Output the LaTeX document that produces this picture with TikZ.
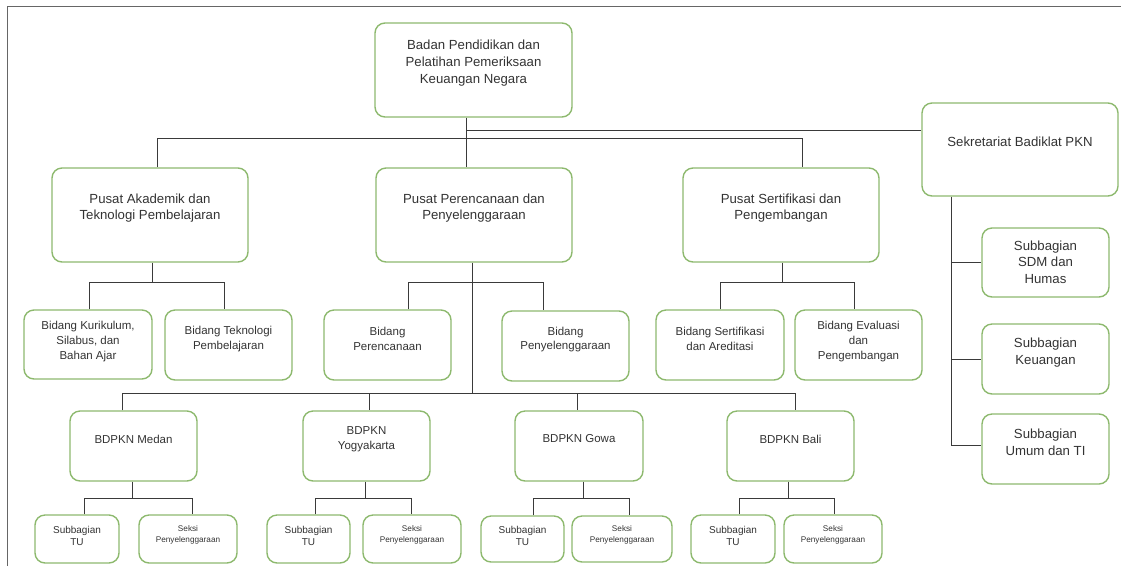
\documentclass[tikz,border=0pt]{standalone}
\usepackage{fontspec}
\setmainfont{Liberation Sans}
\usetikzlibrary{fit}
\definecolor{bgreen}{HTML}{8DB96E}
\definecolor{lnc}{HTML}{3A3A3A}
\definecolor{txc}{HTML}{333333}
\definecolor{frc}{HTML}{666666}
\tikzset{
  orgbox/.style={draw=bgreen, line width=1.4pt, rounded corners=10pt, inner sep=0pt},
  conn/.style={draw=lnc, line width=0.9pt},
  tA/.style={font=\fontsize{13.2}{16.6}\selectfont, align=center, text=txc, inner sep=0pt},
  tB/.style={font=\fontsize{11.5}{14.6}\selectfont, align=center, text=txc, inner sep=0pt},
  tC/.style={font=\fontsize{10}{12.3}\selectfont, align=center, text=txc, inner sep=0pt},
  tD/.style={font=\fontsize{8.2}{11}\selectfont, align=center, text=txc, inner sep=0pt},
}
\newcommand\obox[8]{%
  \node[orgbox, fit={(#2,#3) (#4,#5)}] (#1) {};
  \node[#6] (#1-t) at ({(#2+#4)/2},#8) {#7};}
\begin{document}
\begin{tikzpicture}[x=1pt,y=-1pt]
\useasboundingbox (0,0) rectangle (1121,566);
% frame
\coordinate (fa) at (7,566);
\coordinate (fb) at (7,6);
\coordinate (fc) at (1121,6);
\draw[frc, line width=1pt] (fa) -- (fb) -- (fc);

% boxes
\obox{top}{375}{23}{572}{117}{tA}{Badan Pendidikan dan\\Pelatihan Pemeriksaan\\Keuangan Negara}{63}
\obox{pa}{52}{168}{248}{262}{tA}{Pusat Akademik dan\\Teknologi Pembelajaran}{208}
\obox{pp}{376}{168}{572}{262}{tA}{Pusat Perencanaan dan\\Penyelenggaraan}{208}
\obox{ps}{683}{168}{879}{262}{tA}{Pusat Sertifikasi dan\\Pengembangan}{208}
\obox{sek}{922}{103}{1118}{196}{tA}{Sekretariat Badiklat PKN}{142}
\obox{s1}{982}{228}{1109}{297}{tA}{Subbagian\\SDM dan\\Humas}{262}
\obox{s2}{982}{324}{1109}{394}{tA}{Subbagian\\Keuangan}{352.5}
\obox{s3}{982}{414}{1109}{484}{tA}{Subbagian\\Umum dan TI}{442.5}

\obox{bk}{24}{310}{152}{379}{tB}{Bidang Kurikulum,\\Silabus, dan\\Bahan Ajar}{341.5}
\obox{bt}{165}{310}{292}{380}{tB}{Bidang Teknologi\\Pembelajaran}{339}
\obox{bpr}{324}{310}{451}{380}{tB}{Bidang\\Perencanaan}{339}
\obox{bpy}{502}{311}{629}{381}{tB}{Bidang\\Penyelenggaraan}{339.5}
\obox{bsa}{656}{310}{784}{380}{tB}{Bidang Sertifikasi\\dan Areditasi}{339}
\obox{bev}{795}{310}{922}{380}{tB}{Bidang Evaluasi\\dan\\Pengembangan}{341.5}

\obox{md}{70}{411}{197}{481}{tB}{BDPKN Medan}{439}
\obox{yg}{303}{411}{430}{481}{tB}{BDPKN\\Yogyakarta}{439.5}
\obox{gw}{515}{411}{643}{481}{tB}{BDPKN Gowa}{439}
\obox{bl}{727}{411}{854}{481}{tB}{BDPKN Bali}{439}

\obox{md1}{35}{515}{119}{563}{tC}{Subbagian\\TU}{536}
\obox{md2}{139}{515}{237}{563}{tD}{Seksi\\Penyelenggaraan}{534.5}
\obox{yg1}{267}{515}{350}{563}{tC}{Subbagian\\TU}{536}
\obox{yg2}{363}{515}{461}{563}{tD}{Seksi\\Penyelenggaraan}{534.5}
\obox{gw1}{481}{516}{564}{562}{tC}{Subbagian\\TU}{536}
\obox{gw2}{572}{516}{672}{562}{tD}{Seksi\\Penyelenggaraan}{534.5}
\obox{bl1}{691}{515}{775}{563}{tC}{Subbagian\\TU}{536}
\obox{bl2}{784}{515}{882}{563}{tD}{Seksi\\Penyelenggaraan}{534.5}

% connectors: top level
\coordinate (tj) at (466,138);
\coordinate (sj) at (466,130);
\coordinate (b1) at (157,138);
\coordinate (b2) at (802,138);
\draw[conn] (top.south -| tj) -- (pp.north -| tj);
\draw[conn] (sj) -- (sek.west |- sj);
\draw[conn] (pa.north -| b1) -- (b1) -- (b2) -- (ps.north -| b2);

% Pusat Akademik
\coordinate (a0) at (152,282);
\coordinate (a1) at (89,282);
\coordinate (a2) at (224,282);
\draw[conn] (pa.south -| a0) -- (a0);
\draw[conn] (bk.north -| a1) -- (a1) -- (a2) -- (bt.north -| a2);

% Pusat Perencanaan
\coordinate (p0) at (472,282);
\coordinate (p1) at (408,282);
\coordinate (p2) at (543,282);
\coordinate (p3) at (472,393);
\draw[conn] (pp.south -| p0) -- (p3);
\draw[conn] (bpr.north -| p1) -- (p1) -- (p2) -- (bpy.north -| p2);
\coordinate (q1) at (122,393);
\coordinate (q2) at (369,393);
\coordinate (q3) at (577,393);
\coordinate (q4) at (795,393);
\draw[conn] (md.north -| q1) -- (q1) -- (q4) -- (bl.north -| q4);
\draw[conn] (q2) -- (yg.north -| q2);
\draw[conn] (q3) -- (gw.north -| q3);

% Pusat Sertifikasi
\coordinate (c0) at (782,282);
\coordinate (c1) at (720,282);
\coordinate (c2) at (854,282);
\draw[conn] (ps.south -| c0) -- (c0);
\draw[conn] (bsa.north -| c1) -- (c1) -- (c2) -- (bev.north -| c2);

% Sekretariat
\coordinate (k0) at (951,262);
\coordinate (k1) at (951,359);
\coordinate (k2) at (951,445);
\draw[conn] (sek.south -| k0) -- (k2) -- (s3.west |- k2);
\draw[conn] (k0) -- (s1.west |- k0);
\draw[conn] (k1) -- (s2.west |- k1);

% BDPKN children
\coordinate (m0) at (132,498);
\coordinate (m1) at (84,498);
\coordinate (m2) at (192,498);
\draw[conn] (md.south -| m0) -- (m0);
\draw[conn] (md1.north -| m1) -- (m1) -- (m2) -- (md2.north -| m2);
\coordinate (y0) at (365,498);
\coordinate (y1) at (315,498);
\coordinate (y2) at (411,498);
\draw[conn] (yg.south -| y0) -- (y0);
\draw[conn] (yg1.north -| y1) -- (y1) -- (y2) -- (yg2.north -| y2);
\coordinate (g0) at (583,498);
\coordinate (g1) at (533,498);
\coordinate (g2) at (629,498);
\draw[conn] (gw.south -| g0) -- (g0);
\draw[conn] (gw1.north -| g1) -- (g1) -- (g2) -- (gw2.north -| g2);
\coordinate (l0) at (788,498);
\coordinate (l1) at (739,498);
\coordinate (l2) at (834,498);
\draw[conn] (bl.south -| l0) -- (l0);
\draw[conn] (bl1.north -| l1) -- (l1) -- (l2) -- (bl2.north -| l2);
\end{tikzpicture}
\end{document}
